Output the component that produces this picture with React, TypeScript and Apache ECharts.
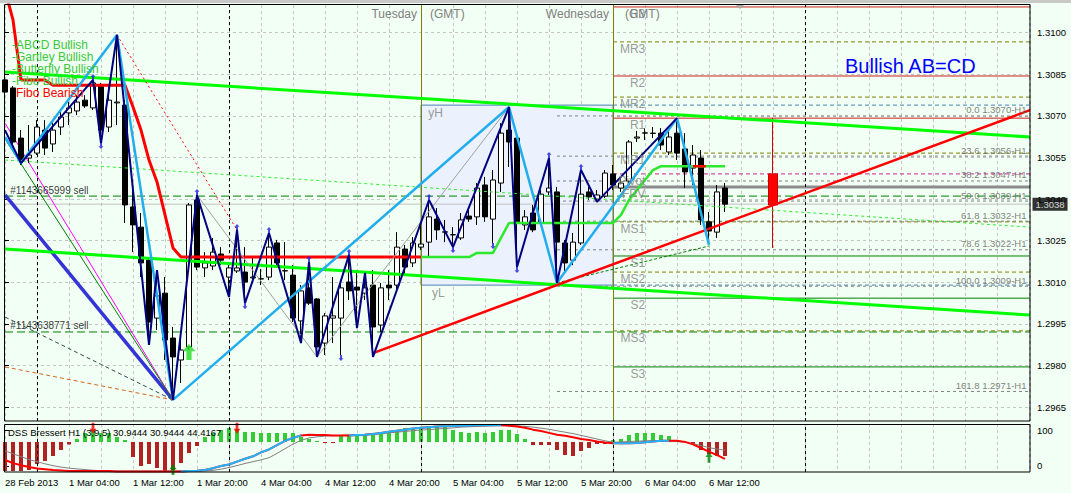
import React, { useEffect, useRef } from "react";
import * as echarts from "echarts";

const FONT = "'Liberation Sans', Arial, Helvetica, sans-serif";
const X_MAX = 128.125; // hourly slots visible (8 px each)

// ---- axes -----------------------------------------------------------
const timeLabels = [
  "28 Feb 2013", "1 Mar 04:00", "1 Mar 12:00", "1 Mar 20:00", "4 Mar 04:00", "4 Mar 12:00",
  "4 Mar 20:00", "5 Mar 04:00", "5 Mar 12:00", "5 Mar 20:00", "6 Mar 04:00", "6 Mar 12:00",
];
const barsPerLabel = 8;
const priceTicks = [1.2965, 1.298, 1.2995, 1.301, 1.3025, 1.304, 1.3055, 1.307, 1.3085, 1.31];
const priceMin = 1.296;
const priceMax = 1.311;
const daySeparators = [4, 28, 52, 76, 100];
const pivotDays = [52, 76];

// ---- candles: [open, close, low, high], hourly from 28 Feb 20:00 ----------
const candles = [
  [1.3083, 1.30786, 1.30757, 1.30909], [1.30801, 1.30606, 1.30595, 1.30808], [1.3062, 1.30541, 1.30523, 1.30649],
  [1.30548, 1.30559, 1.3053, 1.30667], [1.30566, 1.3066, 1.30559, 1.30685], [1.30649, 1.30584, 1.30559, 1.30685],
  [1.30599, 1.30649, 1.3057, 1.30685], [1.3066, 1.30696, 1.30631, 1.30721], [1.30711, 1.30729, 1.30667, 1.3075],
  [1.30718, 1.3075, 1.30703, 1.30775], [1.30757, 1.30736, 1.30729, 1.30775], [1.30729, 1.30819, 1.30721, 1.3083],
  [1.30811, 1.30649, 1.30602, 1.30819], [1.3066, 1.30757, 1.30642, 1.30804], [1.30747, 1.3075, 1.30667, 1.30992],
  [1.30739, 1.30379, 1.30314, 1.30757], [1.30372, 1.30307, 1.30209, 1.30469], [1.30299, 1.3017, 1.30119, 1.3035],
  [1.3018, 1.29957, 1.29874, 1.30191], [1.29971, 1.30051, 1.29928, 1.30144], [1.30061, 1.29892, 1.2982, 1.30119],
  [1.29899, 1.29831, 1.29676, 1.29939], [1.2982, 1.29856, 1.29737, 1.29903], [1.29867, 1.30379, 1.29856, 1.30386],
  [1.30397, 1.30155, 1.30144, 1.30415], [1.30152, 1.3017, 1.30119, 1.30209], [1.30159, 1.30209, 1.30144, 1.3026],
  [1.30202, 1.3018, 1.30162, 1.30227], [1.30119, 1.30152, 1.30047, 1.30162], [1.30141, 1.30152, 1.30134, 1.30289],
  [1.30137, 1.30101, 1.30025, 1.30227], [1.30116, 1.30119, 1.30108, 1.30188], [1.30112, 1.30113, 1.3009, 1.30148],
  [1.30119, 1.30227, 1.30108, 1.30278], [1.30242, 1.3017, 1.30152, 1.30253], [1.30141, 1.30142, 1.30108, 1.30245],
  [1.30126, 1.29971, 1.29957, 1.30162], [1.29961, 1.30069, 1.29881, 1.3009], [1.3008, 1.30025, 1.30018, 1.30173],
  [1.3004, 1.29867, 1.29831, 1.30043], [1.29881, 1.29979, 1.29838, 1.29989], [1.29971, 1.29979, 1.29881, 1.30119],
  [1.29971, 1.3008, 1.29838, 1.30108], [1.30101, 1.30069, 1.30036, 1.30199], [1.30083, 1.30072, 1.29935, 1.30144],
  [1.30061, 1.3008, 1.30036, 1.30134], [1.3009, 1.29939, 1.29831, 1.30144], [1.29946, 1.3008, 1.29921, 1.30098],
  [1.3009, 1.3008, 1.30036, 1.30144], [1.3009, 1.30227, 1.30072, 1.30281], [1.3022, 1.30155, 1.30126, 1.30235],
  [1.3017, 1.30242, 1.30155, 1.30263], [1.30227, 1.30238, 1.30217, 1.30307], [1.30245, 1.30336, 1.30191, 1.30397],
  [1.30328, 1.30289, 1.30253, 1.30368], [1.30281, 1.30282, 1.30245, 1.30325], [1.30271, 1.30272, 1.30227, 1.30299],
  [1.3026, 1.30325, 1.30253, 1.3035], [1.30339, 1.30328, 1.30318, 1.30372], [1.30336, 1.3044, 1.30307, 1.30458],
  [1.30451, 1.30336, 1.30318, 1.3048], [1.30328, 1.30469, 1.30242, 1.30505], [1.30458, 1.30638, 1.30426, 1.30674],
  [1.30649, 1.30606, 1.30516, 1.30732], [1.3062, 1.30318, 1.30155, 1.30624], [1.30307, 1.30336, 1.30289, 1.30361],
  [1.3035, 1.30289, 1.30281, 1.30379], [1.30314, 1.30418, 1.30303, 1.30433], [1.30426, 1.3044, 1.30415, 1.30548],
  [1.30426, 1.30245, 1.30098, 1.30444], [1.30242, 1.3017, 1.30137, 1.30253], [1.3018, 1.30245, 1.30162, 1.30278],
  [1.30242, 1.30418, 1.30235, 1.30505], [1.30426, 1.30408, 1.30397, 1.30444], [1.304, 1.30415, 1.3039, 1.30433],
  [1.30411, 1.30494, 1.30404, 1.30505], [1.30491, 1.30451, 1.30433, 1.30523], [1.3044, 1.30458, 1.30426, 1.30476],
  [1.30465, 1.30606, 1.30458, 1.30613], [1.3062, 1.30624, 1.30606, 1.30646], [1.30638, 1.30639, 1.30613, 1.30656],
  [1.30638, 1.30637, 1.3062, 1.3066], [1.30638, 1.30595, 1.30577, 1.30656], [1.3057, 1.30624, 1.30559, 1.30649],
  [1.30638, 1.30566, 1.30541, 1.30692], [1.30581, 1.30498, 1.3044, 1.30638], [1.30512, 1.30559, 1.30451, 1.30595],
  [1.30548, 1.30325, 1.30307, 1.30577], [1.30318, 1.30285, 1.30253, 1.30354], [1.30281, 1.30426, 1.3026, 1.30451],
  [1.3044, 1.30382, 1.30354, 1.30458],
];
const projectedCandle = [96, 1.30491, 1.30379, 1.30224, 1.30692];
const bidPrice = 1.30382;

// ---- drawn objects (bar index, price) ------------------------------------
const zigzag = [
  [0, 1.30649], [2, 1.3053], [11, 1.3083], [12, 1.30602], [14, 1.30992], [18, 1.29874], [19, 1.30144],
  [21, 1.29676], [24, 1.30415], [28, 1.30047], [29, 1.30289], [30, 1.30025], [33, 1.30278], [37, 1.29881],
  [38, 1.30173], [39, 1.29831], [43, 1.30199], [44, 1.29935], [45, 1.30134], [46, 1.29831], [53, 1.30397],
  [56, 1.30227], [63, 1.30732], [64, 1.30155], [68, 1.30548], [69, 1.30098], [72, 1.30505], [74, 1.3039],
  [84, 1.30692],
];
const zigzagHighs = [[11, 1.3083], [24, 1.30415], [29, 1.30289], [33, 1.30278], [38, 1.30173], [43, 1.30199], [53, 1.30397], [68, 1.30548], [72, 1.30505]];
const zigzagLows = [[12, 1.30602], [30, 1.30025], [42, 1.29838], [56, 1.30227], [61, 1.30242], [64, 1.30155]];
const abcdPattern = [[0, 1.30624], [2, 1.3053], [14, 1.30992], [21, 1.29676], [63, 1.30732], [69, 1.30098], [84, 1.30692], [88, 1.30235]];
const gartleyLegs = [[24, 1.30415], [39, 1.29831], [63, 1.30732]];
const fiboBearLeg = [[14, 1.30992], [29, 1.30289]];
const fanEnd = [21, 1.29676];
const fanStarts = [1.30415, 1.30674, 1.30617, 1.29975, 1.29795];
const channelUpper = [[0, 1.30858], [X_MAX, 1.30624]];
const channelLower = [[0, 1.3022], [X_MAX, 1.29982]];
const channelMid = [[0, 1.30541], [X_MAX, 1.30299]];
const abcdTrend = [[46, 1.29845], [X_MAX, 1.30721]];
const cdSupport = [[69, 1.30098], [88, 1.30231]];
const bearTrail = [
  1.31154, 1.31046, 1.3083, 1.3083, 1.3083, 1.3083, 1.30811, 1.30811, 1.30811, 1.30811, 1.30811, 1.30811,
  1.30811, 1.30811, 1.30811, 1.30811, 1.30732, 1.30649, 1.30541, 1.30462, 1.30343, 1.30224, 1.30191,
  1.30191, 1.30191, 1.30191, 1.30191, 1.30191, 1.30191, 1.30191, 1.30191, 1.30191, 1.30191, 1.30191,
  1.30191, 1.30191, 1.30191, 1.30191, 1.30191, 1.30191, 1.30191, 1.30191, 1.30191, 1.30191, 1.30191,
  1.30191, 1.30191, 1.30191, 1.30191, 1.30191, 1.30191, 1.30191, 1.30191,
];
const bullTrailStart = 52;
const bullTrail = [
  1.30191, 1.30191, 1.30191, 1.30191, 1.30191, 1.30191, 1.30191, 1.30206, 1.30206, 1.30206, 1.3026,
  1.30314, 1.30314, 1.30314, 1.30314, 1.30314, 1.30314, 1.30314, 1.30314, 1.30314, 1.30314, 1.30314,
  1.30314, 1.30314, 1.30314, 1.30343, 1.30397, 1.30433, 1.30469, 1.30505, 1.30519, 1.30519, 1.30519,
  1.30519, 1.30519, 1.30519, 1.30519, 1.30519, 1.30519,
];
const bullTrailBreak = [[86, 1.30519], [87.6, 1.30519]];
const buyArrowMain = [[23, 1.29849]];

// ---- horizontal levels ---------------------------------------------------
const orderNames = ["#1143665999 sell", "#1143638771 sell"];
const orderPrices = [1.30411, 1.29921];
const pivotStart = 76;
const resistNames = ["R3", "R2", "R1"];
const resistPrices = [1.31093, 1.30844, 1.30692];
const midNames = ["MR3", "MR2", "MR1", "MS1", "MS2", "MS3"];
const midPrices = [1.30967, 1.30768, 1.30566, 1.30318, 1.30137, 1.29925];
const supportNames = ["S1", "S2", "S3"];
const supportPrices = [1.30195, 1.30043, 1.29795];
const pivotName = "FPV";
const pivotPrice = 1.30444;
const weekPivotName = "Pivot";
const weekPivotPrice = 1.30491;
const yBoxStart = 52;
const yBoxEnd = 76;
const yHigh = 1.30739;
const yLow = 1.3009;
const fibStart = 69;
const fibHigh = 1.307;
const fibLow = 1.30086;
const fibRatios = [0, 23.6, 38.2, 50, 61.8, 78.6, 100, 161.8];

// ---- DSS Bressert sub-window --------------------------------------------
const dss = [
  16.7, 8, 2, -3, -7, -9, -11, -12.5, -14, -14, -14, -14, -14, -14, -15, -15, -15, -15, -15, -15,
  -15, -15, -15, -14, -13, -11, -6, 0, 4, 12, 20, 27, 38, 46, 58, 70, 78, 85, 87, 86,
  86, 85, 85, 85, 86, 87, 89, 92, 95, 98, 101, 104, 106, 108, 110, 110.5, 111, 112, 112, 113,
  113, 113, 113, 112, 110, 106, 101, 97, 92, 87, 84, 80, 75, 72, 68, 65, 63, 63, 63, 64,
  66, 68, 70, 70, 70, 67, 60, 50, 40, 30, 20,
];
const dssRising = [[22, 37], [43, 62], [76, 83]];
const dssSignal = [
  42, 34, 26, 18, 12, 6, 1, -3, -6, -8, -10, -12, -13, -14, -14, -14, -14, -14, -14, -14,
  -14, -14, -14, -14, -14, -14, -12, -9, -4, 1, 7, 12, 17, 23, 35, 48, 61, 71, 78, 81,
  83, 84, 85, 86, 87, 88, 89, 90, 92, 94, 96, 98, 100, 101, 103, 104, 106, 108, 109, 110,
  111, 112, 113, 113, 112, 110, 108, 105, 102, 98, 94, 90, 85, 80, 75, 70, 66, 67, 68, 69,
  70, 70, 70, 69, 68, 66, 62, 57, 51, 47, 44,
];
const dssHist = [
  -29, -29, -29, -28, -22, -19, -14, -8, -2.5, 3, 9, 13, 9, 9, 5, 2, -15, -24, -22, -26,
  -29, -28, -21, -11, -4, 5, 9, 12, 14, 13, 10, 10, 9, 9, 9, 9, 9, 5, 3, 1,
  -1, -1, 6, 7, 7, 7, 8, 9, 10, 12, 14, 14, 14, 16, 16, 15, 12, 10, 9, 10,
  9, 10, 12, 12, 8, 3, -3, -3, -3, -8, -13, -14, -9, -6, -2, -2, 2, 3, 7, 9,
  9, 9, 7, 6, 2, 0, -2, -8, -12, -14, -14,
];
const dssSellArrows = [[11, 105], [29, 105]];
const dssBuyArrows = [[21, -10], [88, 24]];
const dssTitle = "DSS Bressert H1 (3,9,5) 30.9444 30.9444 44.4167";

const DOWN_ARROW = "path://M3,0 L7,0 L7,7 L10,7 L5,13 L0,7 L3,7 Z";
const UP_ARROW = "path://M5,0 L10,6 L7,6 L7,13 L3,13 L3,6 L0,6 Z";

function buildOption() {
  const series: any[] = [];
  const line = (data: any[], color: string, width: number, type: any, z: number, extra: any = {}) => ({
    type: "line", xAxisIndex: 0, yAxisIndex: 0, data, symbol: "none", silent: true, z,
    lineStyle: { color, width, type }, ...extra,
  });
  const hline = (start: number, price: number, color: string, width: number, type: any, z = 2) =>
    line([[start, price], [X_MAX, price]], color, width, type, z);
  const labels = (items: any[], label: any, z = 9) => ({
    type: "scatter", xAxisIndex: 0, yAxisIndex: 0, symbolSize: 1, silent: true, z, clip: false,
    itemStyle: { color: "rgba(0,0,0,0)" }, data: items,
    label: { show: true, formatter: "{b}", fontFamily: FONT, distance: 0, ...label },
  });

  // bid line + yesterday box + period separators
  series.push(line([[0, bidPrice], [X_MAX, bidPrice]], "#C0C0C0", 1, "solid", 1, {
    markArea: {
      silent: true,
      itemStyle: { color: "#EBF2FD", borderColor: "#4682B4", borderWidth: 1 },
      data: [[{ coord: [yBoxStart, yHigh] }, { coord: [yBoxEnd, yLow] }]],
    },
    markLine: {
      silent: true, symbol: ["none", "none"], label: { show: false },
      lineStyle: { color: "#000", type: [3, 3], width: 1 },
      data: daySeparators.map((v) => ({ xAxis: v })),
    },
  }));
  series.push(line([[yBoxStart, yHigh]], "#808000", 1, "solid", 2, {
    markLine: {
      silent: true, symbol: ["none", "none"], label: { show: false },
      lineStyle: { color: "#808000", type: "solid", width: 1 },
      data: pivotDays.map((v) => ({ xAxis: v })),
    },
  }));

  // horizontal levels
  orderPrices.forEach((p) => series.push(hline(0, p, "#008000", 1, [8, 4])));
  resistPrices.forEach((p) => series.push(hline(pivotStart, p, "#D02020", 1, "solid")));
  midPrices.forEach((p) => series.push(hline(pivotStart, p, "#808000", 1, [4, 3])));
  supportPrices.forEach((p) => series.push(hline(pivotStart, p, "#008000", 1, "solid")));
  series.push(hline(pivotStart, pivotPrice, "#8C8C8C", 3, "solid"));
  series.push(hline(pivotStart, weekPivotPrice, "#D0208F", 1, [4, 3]));
  series.push(hline(pivotStart, yHigh, "#4682B4", 1, [4, 3]));
  series.push(hline(pivotStart, yLow, "#4682B4", 1, [4, 3]));
  const fibLevels = fibRatios.map((r) => fibHigh - (r / 100) * (fibHigh - fibLow));
  fibLevels.forEach((p) => series.push(hline(fibStart, p, "#808080", 1, [3, 3])));

  // gann fan into the low
  const fanStyles: any[] = [
    ["#3434D6", 3.5, "solid"], ["#FF00FF", 1, "solid"], ["#008000", 1, "solid"],
    ["#2F4F4F", 1, [4, 3]], ["#D2691E", 1, [4, 3]],
  ];
  fanStarts.forEach((p, k) =>
    series.push(line([[0, p], fanEnd], fanStyles[k][0], fanStyles[k][1], fanStyles[k][2], 3)));

  // candles
  series.push({
    type: "candlestick", xAxisIndex: 0, yAxisIndex: 0, z: 5, silent: true, barWidth: 5,
    encode: { x: 0, y: [1, 2, 3, 4] },
    data: candles.map((c, i) => [i, c[0], c[1], c[2], c[3]]),
    itemStyle: {
      color: "#FFFFFF", color0: "#000000", borderColor: "#000000", borderColor0: "#000000",
      borderColorDoji: "#000000", borderWidth: 1,
    },
  });
  series.push({
    type: "candlestick", xAxisIndex: 0, yAxisIndex: 0, z: 5, silent: true, barWidth: 10,
    encode: { x: 0, y: [1, 2, 3, 4] },
    data: [projectedCandle],
    itemStyle: { color: "#FF0000", color0: "#FF0000", borderColor: "#CC0000", borderColor0: "#CC0000", borderWidth: 1 },
  });

  // channel, trails, patterns
  series.push(line(channelUpper, "#00FF00", 3, "solid", 6));
  series.push(line(channelLower, "#00FF00", 3, "solid", 6));
  series.push(line(channelMid, "#33EE33", 1, [3, 3], 6));
  series.push(line(bearTrail.map((p, i) => [i, p]), "#FF0000", 3, "solid", 6));
  series.push(line(bullTrail.map((p, i) => [bullTrailStart + i, p]), "#2EE82E", 2.5, "solid", 6));
  series.push(line(bullTrailBreak, "#FF0000", 2.5, "solid", 6));
  series.push(line(cdSupport, "#008000", 1, [3, 2], 6));
  series.push(line(fiboBearLeg, "#FF0000", 1, [2, 3], 6));
  series.push(line(gartleyLegs, "#A0A0A0", 1, "solid", 6));
  series.push(line(abcdTrend, "#FF0000", 2.5, "solid", 7));
  series.push(line(abcdPattern, "#22AEEE", 2.5, "solid", 7));
  series.push(line(zigzag, "#000080", 2, "solid", 7));

  // arrows
  series.push({
    type: "scatter", xAxisIndex: 0, yAxisIndex: 0, z: 8, silent: true, symbol: UP_ARROW,
    symbolSize: [5, 6], symbolOffset: [0, -3], itemStyle: { color: "#2020D8" }, data: zigzagHighs,
  });
  series.push({
    type: "scatter", xAxisIndex: 0, yAxisIndex: 0, z: 8, silent: true, symbol: DOWN_ARROW,
    symbolSize: [5, 6], symbolOffset: [0, 3], itemStyle: { color: "#2020D8" }, data: zigzagLows,
  });
  series.push({
    type: "scatter", xAxisIndex: 0, yAxisIndex: 0, z: 8, silent: true, symbol: UP_ARROW,
    symbolSize: [13, 16], itemStyle: { color: "#22DD22" }, data: buyArrowMain,
  });

  // texts tied to levels
  const pivotLabelX = 80.1;
  series.push(labels(
    [
      ...resistNames.map((n, k) => ({ name: n, value: [pivotLabelX, resistPrices[k]] })),
      ...midNames.map((n, k) => ({ name: n, value: [pivotLabelX, midPrices[k]] })),
      ...supportNames.map((n, k) => ({ name: n, value: [pivotLabelX, supportPrices[k]] })),
      { name: pivotName, value: [pivotLabelX, pivotPrice] },
      { name: weekPivotName, value: [pivotLabelX, weekPivotPrice] },
    ],
    { position: "left", offset: [0, 7], color: "#808080", fontSize: 12 },
  ));
  series.push(labels(
    fibLevels.map((p, k) => ({ name: `${fibRatios[k].toFixed(1)} ${p.toFixed(4)}-H1`, value: [127.75, p] })),
    { position: "left", offset: [0, -6], color: "#606060", fontSize: 9.5 },
  ));
  series.push(labels(
    orderNames.map((n, k) => ({ name: n, value: [0.6, orderPrices[k]] })),
    { position: "right", offset: [0, -6], color: "#000", fontSize: 10 },
  ));
  series.push(labels(
    [{ name: "yH", value: [52.85, yHigh] }, { name: "yL", value: [53.3, yLow] }],
    { position: "right", offset: [0, 8], color: "#808080", fontSize: 12 },
  ));
  series.push(labels(
    [{ name: bidPrice.toFixed(4), value: [X_MAX, bidPrice] }],
    { position: "right", distance: 2, color: "#FFFFFF", backgroundColor: "#000000", padding: [2, 3, 1, 3], fontSize: 9.5 },
    10,
  ));

  // DSS sub-window
  series.push({
    type: "bar", xAxisIndex: 1, yAxisIndex: 2, barWidth: 4, silent: true, z: 3,
    data: dssHist.map((h, i) => [i, h]),
    itemStyle: { color: (p: any) => (p.value[1] >= 0 ? "#32CD32" : "#B22222") },
  });
  series.push({
    type: "line", xAxisIndex: 1, yAxisIndex: 1, symbol: "none", silent: true, z: 4,
    data: dssSignal.map((v, i) => [i, v]), lineStyle: { color: "#808080", width: 1 },
    markLine: {
      silent: true, symbol: ["none", "none"], label: { show: false },
      lineStyle: { color: "#000", type: [3, 3], width: 1 },
      data: daySeparators.map((v) => ({ xAxis: v })),
    },
  });
  series.push({
    type: "line", xAxisIndex: 1, yAxisIndex: 1, symbol: "none", silent: true, z: 5,
    data: dss.map((v, i) => [i, v]), lineStyle: { color: "#FF0000", width: 2 },
  });
  series.push({
    type: "line", xAxisIndex: 1, yAxisIndex: 1, symbol: "none", silent: true, z: 6,
    data: dss.map((v, i) => [i, dssRising.some(([a, b]) => i >= a && i <= b) ? v : null]),
    lineStyle: { color: "#1EB4FF", width: 2 },
  });
  series.push({
    type: "scatter", xAxisIndex: 1, yAxisIndex: 1, z: 8, silent: true, symbol: DOWN_ARROW,
    symbolSize: [7, 11], itemStyle: { color: "#FF0000" }, data: dssSellArrows,
  });
  series.push({
    type: "scatter", xAxisIndex: 1, yAxisIndex: 1, z: 8, silent: true, symbol: UP_ARROW,
    symbolSize: [7, 11], itemStyle: { color: "#008000" }, data: dssBuyArrows,
  });

  const splitX = { show: true, lineStyle: { color: "#C4C4C4", type: [3, 3], width: 1 } };
  const txt = (x: number, y: number, text: string, fill: string, fontSize: number, align = "left") => ({
    type: "text", x, y, z: 20, silent: true,
    style: { text, fill, fontSize, fontFamily: FONT, align, verticalAlign: "middle" },
  });

  return {
    animation: false,
    backgroundColor: "#F2FFF4",
    grid: [
      { left: 5, top: 5, width: 1025, height: 416 },
      { left: 5, top: 424, width: 1025, height: 48 },
    ],
    xAxis: [
      {
        type: "value", gridIndex: 0, min: 0, max: X_MAX, interval: 4,
        axisLine: { show: false }, axisTick: { show: false }, axisLabel: { show: false }, splitLine: splitX,
      },
      {
        type: "value", gridIndex: 1, min: 0, max: X_MAX, interval: 4,
        axisLine: { show: false }, axisTick: { show: false }, splitLine: splitX,
        axisLabel: {
          show: true, align: "left", margin: 5, color: "#000", fontSize: 9.5, fontFamily: FONT,
          showMinLabel: true, showMaxLabel: true,
          formatter: (v: number) => {
            const k = Math.round(v);
            if (Math.abs(v - k) > 1e-6 || k % barsPerLabel !== 0) return "";
            return timeLabels[k / barsPerLabel] ?? "";
          },
        },
      },
    ],
    yAxis: [
      {
        type: "value", gridIndex: 0, position: "right", min: priceMin, max: priceMax,
        axisLine: { show: false },
        axisTick: { show: true, customValues: priceTicks, length: 4, lineStyle: { color: "#000" } },
        axisLabel: {
          customValues: priceTicks, formatter: (v: number) => v.toFixed(4),
          color: "#000", fontSize: 9.5, margin: 7, fontFamily: FONT,
        },
        splitLine: { show: true, lineStyle: { color: "#C4C4C4", type: [3, 3], width: 1 } },
      },
      {
        type: "value", gridIndex: 1, position: "right", min: -16.7, max: 116.7,
        axisLine: { show: false },
        axisTick: { show: true, customValues: [0, 100], length: 4, lineStyle: { color: "#000" } },
        axisLabel: { customValues: [0, 100], color: "#000", fontSize: 9.5, margin: 7, fontFamily: FONT },
        splitLine: { show: false },
      },
      { type: "value", gridIndex: 1, min: -30, max: 18, show: false, splitLine: { show: false } },
    ],
    series,
    graphic: [
      { type: "rect", z: 0, silent: true, shape: { x: 0, y: 0, width: 1071, height: 3 }, style: { fill: "#C8C8C8" } },
      { type: "polygon", z: 20, silent: true, shape: { points: [[735, 4], [745, 4], [740, 9]] }, style: { fill: "#A8A8A8" } },
      { type: "rect", z: 30, silent: true, shape: { x: 4.5, y: 4.5, width: 1025.5, height: 416.5 }, style: { fill: "none", stroke: "#000", lineWidth: 1 } },
      { type: "rect", z: 30, silent: true, shape: { x: 4.5, y: 424.5, width: 1025.5, height: 47.5 }, style: { fill: "none", stroke: "#000", lineWidth: 1 } },
      txt(417, 14, "Tuesday", "#808080", 12, "right"),
      txt(430, 14, "(GMT)", "#808080", 12),
      txt(609, 14, "Wednesday", "#808080", 12, "right"),
      txt(625, 14, "(GMT)", "#808080", 12),
      txt(12, 45, "-ABCD Bullish", "#3CC83C", 12),
      txt(12, 57, "-Gartley Bullish", "#3CC83C", 12),
      txt(12, 69, "-Butterfly Bullish", "#3CC83C", 12),
      txt(12, 81, "-Fibo Bullish", "#3CC83C", 12),
      txt(16, 93, "Fibo Bearish", "#FF0000", 12),
      txt(845, 66, "Bullish AB=CD", "#0000FF", 20),
      txt(8, 432, dssTitle, "#000", 9.5),
    ],
  };
}

export default function App() {
  const ref = useRef<HTMLDivElement>(null);
  useEffect(() => {
    if (!ref.current) return;
    const chart = echarts.init(ref.current, null, { renderer: "svg" });
    chart.setOption(buildOption() as any);
    return () => chart.dispose();
  }, []);
  return (
    <div
      ref={ref}
      style={{ position: "fixed", left: 0, top: 0, width: 1071, height: 493, background: "#F2FFF4" }}
    />
  );
}
